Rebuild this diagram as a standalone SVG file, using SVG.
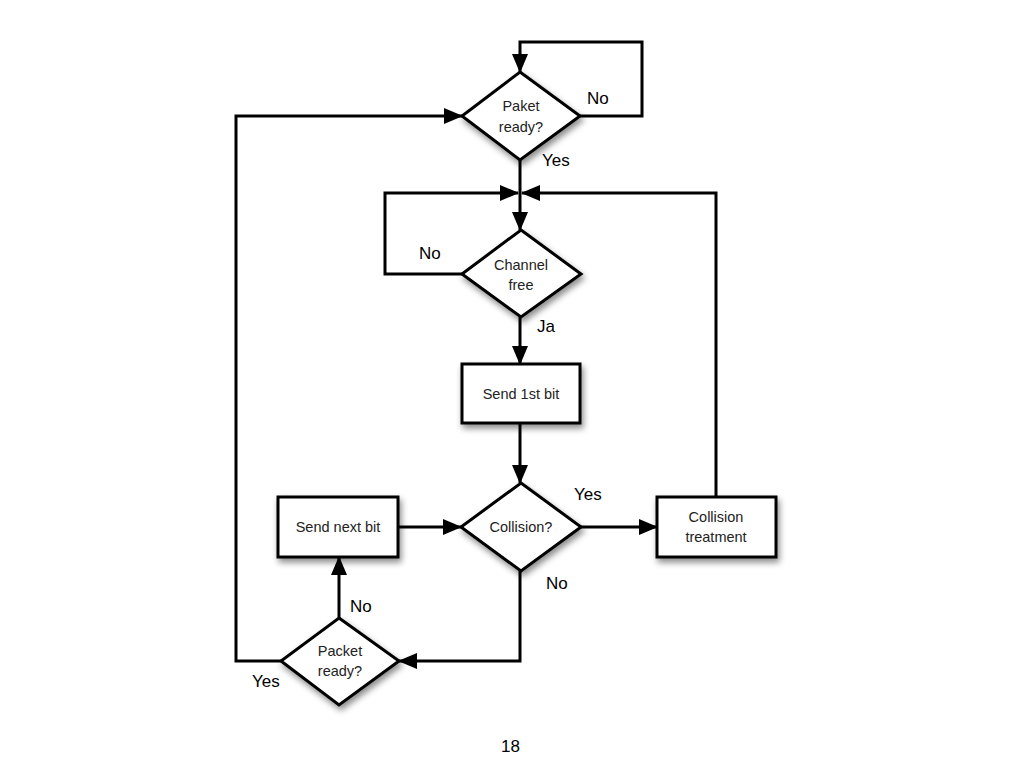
<svg xmlns="http://www.w3.org/2000/svg" width="1024" height="768" viewBox="0 0 1024 768">
<style>
.shape{fill:#fff;stroke:#000;stroke-width:3;filter:url(#sh)}
.edge{fill:none;stroke:#000;stroke-width:3}
.nt{font-family:"Liberation Sans",Arial,sans-serif;font-size:14.5px;fill:#222;text-anchor:middle;dominant-baseline:central}
.lb{font-family:"Liberation Sans",Arial,sans-serif;font-size:17px;fill:#000}
</style>
<defs>
<filter id="sh" x="-30%" y="-30%" width="160%" height="170%">
<feDropShadow dx="2" dy="4" stdDeviation="3" flood-color="#000" flood-opacity="0.45"/>
</filter>
<marker id="ah" markerUnits="userSpaceOnUse" markerWidth="19" markerHeight="16" refX="18" refY="8" orient="auto">
<path d="M0,0 L19,8 L0,16 z" fill="#000"/>
</marker>
</defs>
<rect width="1024" height="768" fill="#fff"/>
<g id="connectors">
<path class="edge" d="M580,116 H642 V42 H520 V72" marker-end="url(#ah)"/>
<path class="edge" d="M281,661 H236 V116 H462" marker-end="url(#ah)"/>
<path class="edge" d="M520,160 V230" marker-end="url(#ah)"/>
<path class="edge" d="M462,274 H385 V193 H518" marker-end="url(#ah)"/>
<path class="edge" d="M716,497 V193 H522" marker-end="url(#ah)"/>
<path class="edge" d="M520,317 V364" marker-end="url(#ah)"/>
<path class="edge" d="M520,423 V483" marker-end="url(#ah)"/>
<path class="edge" d="M398,527 H461" marker-end="url(#ah)"/>
<path class="edge" d="M581,527 H657" marker-end="url(#ah)"/>
<path class="edge" d="M520,571 V661 H399" marker-end="url(#ah)"/>
<path class="edge" d="M339,618 V557" marker-end="url(#ah)"/>
</g>
<g id="paket-ready">
<polygon class="shape" points="520,72 580,116 520,160 462,116"/>
<text class="nt" x="521" y="106">Paket</text>
<text class="nt" x="521" y="127">ready?</text>
</g>
<g id="channel-free">
<polygon class="shape" points="521,230 581,274 521,317 462,274"/>
<text class="nt" x="521" y="265">Channel</text>
<text class="nt" x="521" y="285">free</text>
</g>
<g id="send-1st-bit">
<rect class="shape" x="462" y="364" width="118" height="59"/>
<text class="nt" x="521" y="394">Send 1st bit</text>
</g>
<g id="collision">
<polygon class="shape" points="521,483 581,527 521,571 461,527"/>
<text class="nt" x="521" y="527">Collision?</text>
</g>
<g id="send-next-bit">
<rect class="shape" x="278" y="497" width="120" height="60"/>
<text class="nt" x="338" y="527">Send next bit</text>
</g>
<g id="collision-treatment">
<rect class="shape" x="657" y="497" width="119" height="60"/>
<text class="nt" x="716" y="517">Collision</text>
<text class="nt" x="716" y="537">treatment</text>
</g>
<g id="packet-ready">
<polygon class="shape" points="339,618 399,661 339,705 281,661"/>
<text class="nt" x="340" y="651">Packet</text>
<text class="nt" x="340" y="671">ready?</text>
</g>
<g id="labels">
<text class="lb" x="587" y="104">No</text>
<text class="lb" x="542" y="166">Yes</text>
<text class="lb" x="419" y="259">No</text>
<text class="lb" x="537" y="332">Ja</text>
<text class="lb" x="574" y="500">Yes</text>
<text class="lb" x="546" y="589">No</text>
<text class="lb" x="350" y="612">No</text>
<text class="lb" x="252" y="687">Yes</text>
<text class="lb" x="501" y="752">18</text>
</g>
</svg>
